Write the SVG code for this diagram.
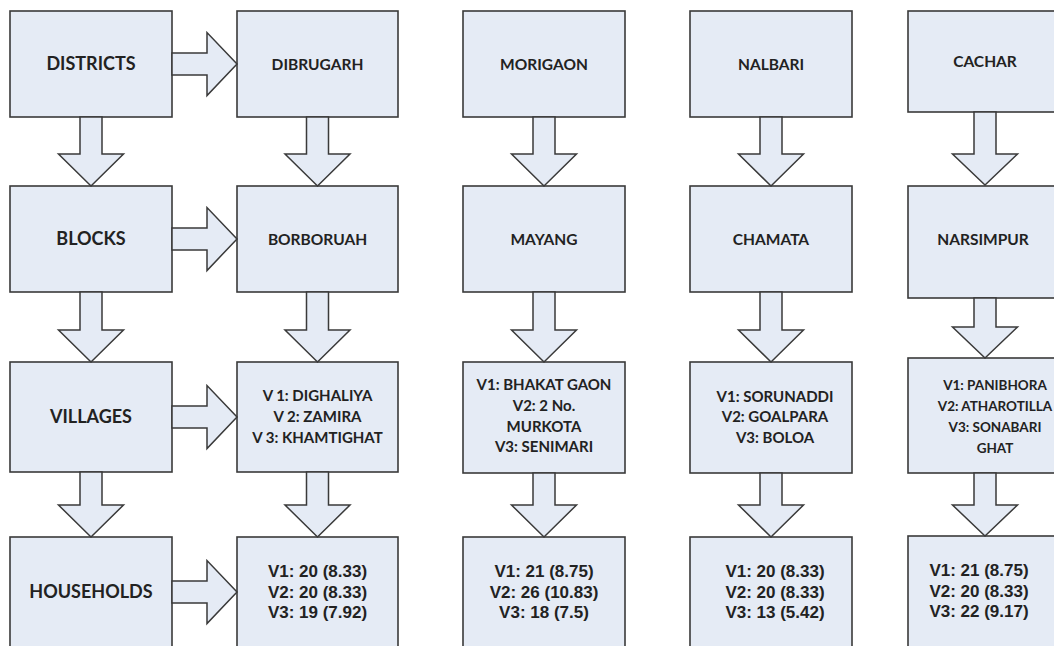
<svg xmlns="http://www.w3.org/2000/svg" width="1054" height="646" viewBox="0 0 1054 646">
<style>
.box{fill:#e5ebf5;stroke:#3a3a3a;stroke-width:1.6}
.arr{fill:#e5ebf5;stroke:#3a3a3a;stroke-width:1.5;stroke-linejoin:miter}
.h{font-family:Lato,"Open Sans","Liberation Sans",sans-serif;font-weight:bold;font-size:18px;fill:#222222;text-anchor:middle}
.l{font-family:Lato,"Open Sans","Liberation Sans",sans-serif;font-weight:bold;font-size:15.5px;fill:#222222;text-anchor:middle}
.v{font-family:Lato,"Open Sans","Liberation Sans",sans-serif;font-weight:bold;font-size:15px;fill:#222222;text-anchor:middle}
.v5{font-family:Lato,"Open Sans","Liberation Sans",sans-serif;font-weight:bold;font-size:13.5px;fill:#222222;text-anchor:middle}
.n{font-family:"Liberation Sans",Arial,sans-serif;font-weight:bold;font-size:17px;fill:#222222;text-anchor:middle}
</style>
<rect width="1054" height="646" fill="#ffffff"/>
<g id="districts"><rect class="box" x="10" y="11" width="162" height="106"/><text class="h" x="91" y="70">DISTRICTS</text></g>
<g id="blocks"><rect class="box" x="10" y="186" width="162" height="106"/><text class="h" x="91" y="245">BLOCKS</text></g>
<g id="villages"><rect class="box" x="10" y="362" width="162" height="110"/><text class="h" x="91" y="423">VILLAGES</text></g>
<g id="households"><rect class="box" x="10" y="537" width="162" height="130"/><text class="h" x="91" y="598">HOUSEHOLDS</text></g>

<g id="dibrugarh"><rect class="box" x="237" y="11" width="161" height="106"/><text class="l" x="317.5" y="69.5">DIBRUGARH</text></g>
<g id="borboruah"><rect class="box" x="237" y="186" width="161" height="106"/><text class="l" x="317.5" y="244.5">BORBORUAH</text></g>
<g id="dibrugarh-villages"><rect class="box" x="237" y="362" width="161" height="110"/>
<text class="v" x="317.5" y="401">V 1: DIGHALIYA</text><text class="v" x="317.5" y="422">V 2: ZAMIRA</text><text class="v" x="317.5" y="443">V 3: KHAMTIGHAT</text></g>
<g id="dibrugarh-households"><rect class="box" x="237" y="537" width="161" height="130"/>
<text class="n" x="317.5" y="577">V1: 20 (8.33)</text><text class="n" x="317.5" y="597.5">V2: 20 (8.33)</text><text class="n" x="317.5" y="618">V3: 19 (7.92)</text></g>

<g id="morigaon"><rect class="box" x="463" y="11" width="162" height="106"/><text class="l" x="544" y="69.5">MORIGAON</text></g>
<g id="mayang"><rect class="box" x="463" y="186" width="162" height="106"/><text class="l" x="544" y="244.5">MAYANG</text></g>
<g id="morigaon-villages"><rect class="box" x="463" y="362" width="162" height="111"/>
<text class="v" x="544" y="390">V1: BHAKAT GAON</text><text class="v" x="544" y="411">V2: 2 No.</text><text class="v" x="544" y="432">MURKOTA</text><text class="v" x="544" y="452">V3: SENIMARI</text></g>
<g id="morigaon-households"><rect class="box" x="463" y="537" width="162" height="130"/>
<text class="n" x="544" y="577">V1: 21 (8.75)</text><text class="n" x="544" y="597.5">V2: 26 (10.83)</text><text class="n" x="544" y="618">V3: 18 (7.5)</text></g>

<g id="nalbari"><rect class="box" x="690" y="11" width="162" height="106"/><text class="l" x="771" y="69.5">NALBARI</text></g>
<g id="chamata"><rect class="box" x="690" y="186" width="162" height="106"/><text class="l" x="771" y="244.5">CHAMATA</text></g>
<g id="nalbari-villages"><rect class="box" x="690" y="362" width="162" height="111"/>
<text class="v" x="775" y="402">V1: SORUNADDI</text><text class="v" x="775" y="422">V2: GOALPARA</text><text class="v" x="775" y="443">V3: BOLOA</text></g>
<g id="nalbari-households"><rect class="box" x="690" y="537" width="162" height="130"/>
<text class="n" x="775" y="577">V1: 20 (8.33)</text><text class="n" x="775" y="597.5">V2: 20 (8.33)</text><text class="n" x="775" y="618">V3: 13 (5.42)</text></g>

<g id="cachar"><rect class="box" x="908" y="11" width="160" height="101"/><text class="l" x="985" y="67">CACHAR</text></g>
<g id="narsimpur"><rect class="box" x="908" y="186" width="160" height="112"/><text class="l" x="983" y="244.5">NARSIMPUR</text></g>
<g id="cachar-villages"><rect class="box" x="908" y="358" width="160" height="115"/>
<text class="v5" x="995" y="390">V1: PANIBHORA</text><text class="v5" x="995" y="411">V2: ATHAROTILLA</text><text class="v5" x="995" y="432">V3: SONABARI</text><text class="v5" x="995" y="453">GHAT</text></g>
<g id="cachar-households"><rect class="box" x="908" y="536" width="160" height="130"/>
<text class="n" x="979" y="576">V1: 21 (8.75)</text><text class="n" x="979" y="596.5">V2: 20 (8.33)</text><text class="n" x="979" y="617">V3: 22 (9.17)</text></g>

<g id="connectors">
<path class="arr" d="M172,53 H207 V32.5 L237,64 L207,95.5 V75 H172 Z"/>
<path class="arr" d="M172,228 H207 V207.5 L237,239 L207,270.5 V250 H172 Z"/>
<path class="arr" d="M172,406 H207 V385.5 L237,417 L207,448.5 V428 H172 Z"/>
<path class="arr" d="M172,581 H207 V560.5 L237,592 L207,623.5 V603 H172 Z"/>
<path class="arr" d="M80,117 V154 H58.5 L91,186 L123.5,154 H102 V117 Z"/>
<path class="arr" d="M80,292 V330 H58.5 L91,362 L123.5,330 H102 V292 Z"/>
<path class="arr" d="M80,472 V505 H58.5 L91,537 L123.5,505 H102 V472 Z"/>
<path class="arr" d="M306.5,117 V154 H285 L317.5,186 L350,154 H328.5 V117 Z"/>
<path class="arr" d="M306.5,292 V330 H285 L317.5,362 L350,330 H328.5 V292 Z"/>
<path class="arr" d="M306.5,472 V505 H285 L317.5,537 L350,505 H328.5 V472 Z"/>
<path class="arr" d="M533,117 V154 H511.5 L544,186 L576.5,154 H555 V117 Z"/>
<path class="arr" d="M533,292 V330 H511.5 L544,362 L576.5,330 H555 V292 Z"/>
<path class="arr" d="M533,473 V505 H511.5 L544,537 L576.5,505 H555 V473 Z"/>
<path class="arr" d="M760,117 V154 H738.5 L771,186 L803.5,154 H782 V117 Z"/>
<path class="arr" d="M760,292 V330 H738.5 L771,362 L803.5,330 H782 V292 Z"/>
<path class="arr" d="M760,473 V505 H738.5 L771,537 L803.5,505 H782 V473 Z"/>
<path class="arr" d="M974,112 V154 H952.5 L985,185 L1017.5,154 H996 V112 Z"/>
<path class="arr" d="M974,298 V327 H952.5 L985,358 L1017.5,327 H996 V298 Z"/>
<path class="arr" d="M974,473 V505 H952.5 L985,536 L1017.5,505 H996 V473 Z"/>
</g>
</svg>
